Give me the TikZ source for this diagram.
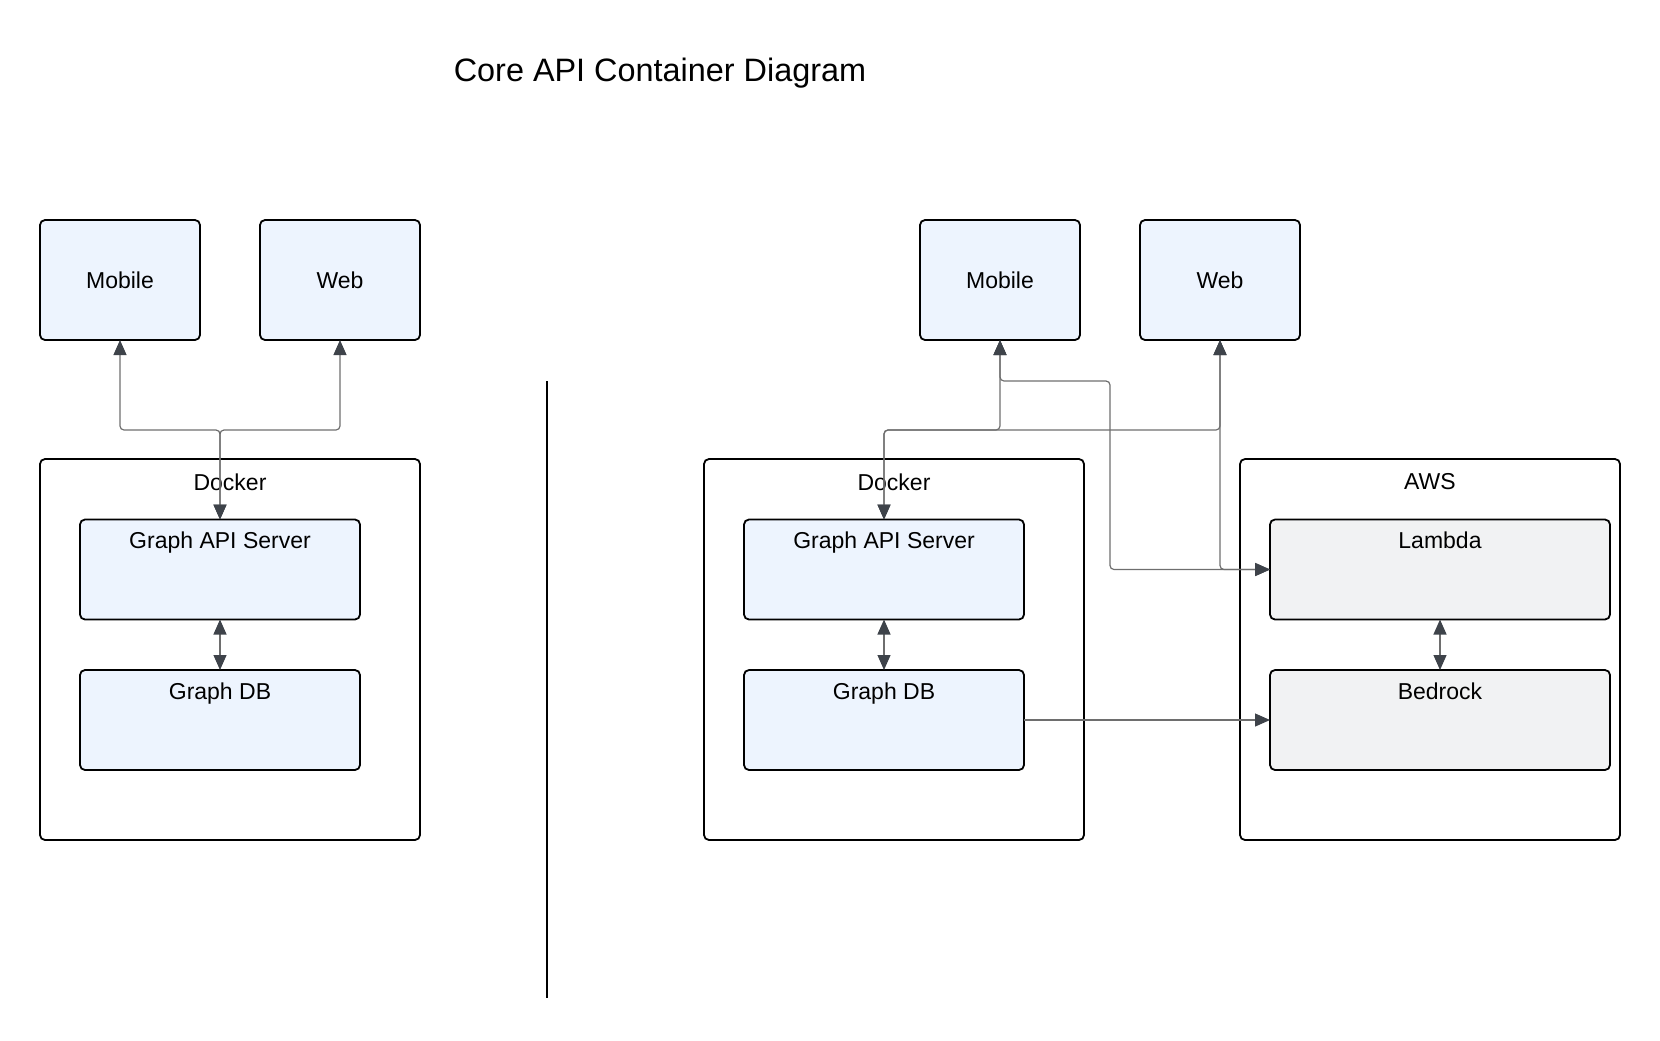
\documentclass[tikz,border=0pt]{standalone}
\usepackage{fontspec}
\setmainfont{Liberation Sans}
\usetikzlibrary{arrows.meta}
\definecolor{boxblue}{HTML}{EDF4FE}
\definecolor{boxgray}{HTML}{F1F2F3}
\definecolor{tipdark}{HTML}{3E434A}
\definecolor{linegray}{HTML}{6E6E6E}
\begin{document}
\begin{tikzpicture}[x=0.5pt,y=-0.5pt,inner sep=0pt,outer sep=0pt,
font=\fontsize{11.5}{14}\selectfont,
>={Triangle[color=tipdark,length=7.5pt,width=6.5pt]},
client/.style={draw,rectangle,rounded corners=2.5pt,line width=0.9pt,fill=boxblue,minimum width=80pt,minimum height=60pt},
boundary/.style={draw,rectangle,rounded corners=2.5pt,line width=0.9pt,minimum width=190pt,minimum height=190.5pt,label={[below=7.3pt]north:#1}},
container/.style={draw,rectangle,rounded corners=2.5pt,line width=0.9pt,fill=boxblue,minimum width=140pt,minimum height=50pt,label={[below=6.4pt]north:#1}},
cloudbox/.style={container=#1,fill=boxgray,minimum width=170pt},
conn/.style={draw=linegray,line width=0.6pt,rounded corners=2pt},
link/.style={conn,<->},
flow/.style={conn,->}]
\useasboundingbox (0,0) rectangle (1660,1040);
\node (title) at (660,73) {\fontsize{16.2}{19}\selectfont Core API Container Diagram};

\node[client] (lmob) at (120,280) {Mobile};
\node[client] (lweb) at (340,280) {Web};
\node[boundary=Docker] (ldock) at (230,649.5) {};
\node[container=Graph API Server] (lapi) at (220,569.5) {};
\node[container=Graph DB] (ldb) at (220,720) {};
\coordinate (lbus) at (220,430);
\draw[link] (lmob.south) |- (lbus) -- (lapi.north);
\draw[link] (lweb.south) |- (lbus) -- (lapi.north);
\draw[link] (lapi.south) -- (ldb.north);

\draw[line width=1pt] (547,381) coordinate (divtop) -- (547,998) coordinate (divbot);

\node[client] (rmob) at (1000,280) {Mobile};
\node[client] (rweb) at (1220,280) {Web};
\node[boundary=Docker] (rdock) at (894,649.5) {};
\node[container=Graph API Server] (rapi) at (884,569.5) {};
\node[container=Graph DB] (rdb) at (884,720) {};
\node[boundary=AWS] (aws) at (1430,649.5) {};
\node[cloudbox=Lambda] (lambda) at (1440,569.5) {};
\node[cloudbox=Bedrock] (bedrock) at (1440,720) {};
\coordinate (rbus) at (884,430);
\coordinate (mbend) at (1110,381);
\draw[link] (rmob.south) |- (rbus) -- (rapi.north);
\draw[link] (rweb.south) |- (rbus) -- (rapi.north);
\draw[link] (rmob.south) |- (mbend) |- (lambda.west);
\draw[link] (rweb.south) |- (lambda.west);
\draw[link] (rapi.south) -- (rdb.north);
\draw[link] (lambda.south) -- (bedrock.north);
\draw[flow] (rdb.east) -- (bedrock.west);
\end{tikzpicture}
\end{document}
